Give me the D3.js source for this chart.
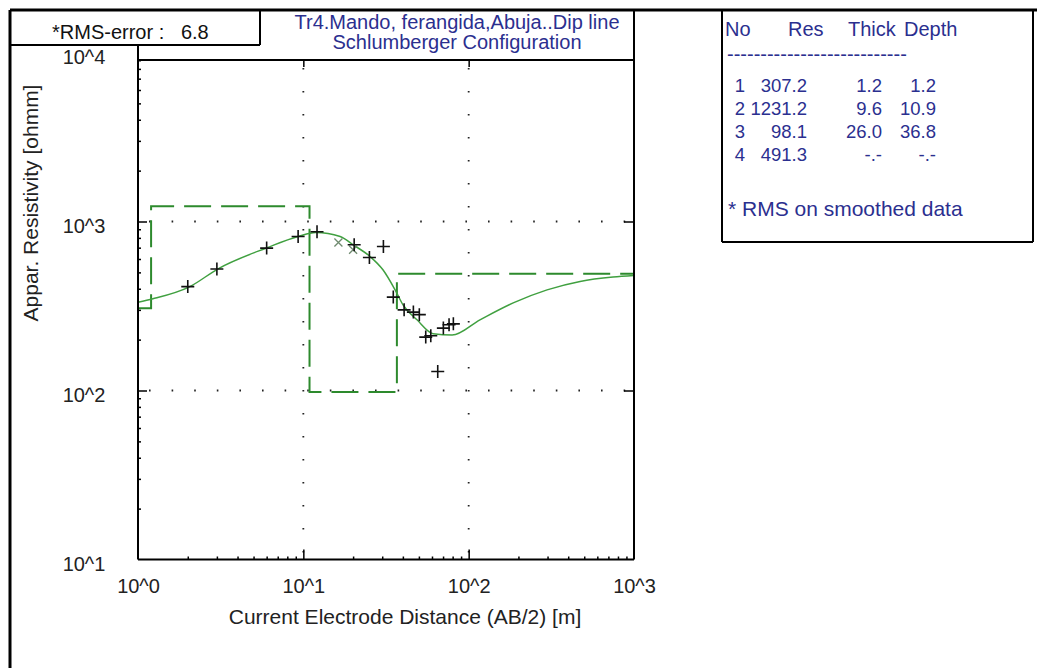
<!DOCTYPE html>
<html>
<head>
<meta charset="utf-8">
<script src="https://cdn.jsdelivr.net/npm/d3@7"></script>
<style>
  body { margin: 0; background: #fff; }
  text { font-family: "Liberation Sans", Arial, sans-serif; }
</style>
</head>
<body>
<svg id="chart" width="1037" height="668"></svg>
<script>
// layer model (inversion result)
const layerNo = [1, 2, 3, 4];
const layerRes = [307.2, 1231.2, 98.1, 491.3];
const layerThick = ["1.2", "9.6", "26.0", "-.-"];
const layerDepth = [1.2, 10.9, 36.8, null];

// field data (black crosses)
const dataAB = [2.0, 3.0, 6.0, 9.3, 12.1, 20.3, 25.1, 30.5, 35.0, 40.7, 46.3, 50.3, 55.0, 59.0, 65.0, 70.3, 76.1, 80.8];
const dataRho = [412, 523, 696, 815, 870, 728, 612, 711, 357, 300, 291, 281, 207, 211, 129.5, 234, 245, 248];

// smoothed data (small x)
const smoothAB = [16.3, 20.0];
const smoothRho = [751, 680];

// model response curve
const curveAB = [1, 1.23, 2.06, 3.05, 6.03, 9.29, 11.9, 16.7, 20.0, 25.3, 30.3, 35.9, 40.1, 48.7, 60.9, 79.4, 117, 186, 298, 472, 747, 1000];
const curveRho = [333, 349, 412, 525, 699, 815, 861, 815, 728, 621, 518, 394, 321, 262, 217, 213, 262, 330, 394, 442, 469, 479];

const xTickVals = [1, 10, 100, 1000];
const xTickLabels = ["10^0", "10^1", "10^2", "10^3"];
const yTickVals = [10, 100, 1000, 10000];
const yTickLabels = ["10^1", "10^2", "10^3", "10^4"];

const titleLines = ["Tr4.Mando, ferangida,Abuja..Dip line", "Schlumberger Configuration"];
const rmsText = "*RMS-error :   6.8";
const xTitle = "Current Electrode Distance (AB/2) [m]";
const yTitle = "Appar. Resistivity [ohmm]";
const tableHead = ["No", "Res", "Thick", "Depth"];

const svg = d3.select("#chart");
const blue = "#2b2f8f";

const pLeft = 138, pRight = 634, pTop = 60, pBottom = 559.5;
const x = d3.scaleLog().domain([1, 1000]).range([pLeft, pRight]);
const y = d3.scaleLog().domain([10, 10000]).range([pBottom, 52.5]);

function hline(x1, x2, yy, w) {
  svg.append("line").attr("x1", x1).attr("x2", x2).attr("y1", yy).attr("y2", yy)
    .attr("stroke", "#000").attr("stroke-width", w);
}
function vline(xx, y1, y2, w) {
  svg.append("line").attr("x1", xx).attr("x2", xx).attr("y1", y1).attr("y2", y2)
    .attr("stroke", "#000").attr("stroke-width", w);
}

// dotted grid
[10, 100].forEach(v => {
  svg.append("line").attr("x1", x(v)).attr("x2", x(v)).attr("y1", pTop).attr("y2", pBottom)
    .attr("stroke", "#222").attr("stroke-width", 1.8).attr("stroke-dasharray", "1.6,21.4")
    .attr("stroke-dashoffset", -8);
});
[100, 1000].forEach(v => {
  svg.append("line").attr("x1", pLeft).attr("x2", pRight).attr("y1", y(v)).attr("y2", y(v))
    .attr("stroke", "#222").attr("stroke-width", 1.8).attr("stroke-dasharray", "1.6,21")
    .attr("stroke-dashoffset", -11);
});

// minor / major ticks through axes
function minors(lo, hi) {
  const out = [];
  for (let p = lo; p < hi; p++) for (let k = 2; k <= 9; k++) out.push(k * Math.pow(10, p));
  return out;
}
function axisG(axis, tx, ty) {
  const g = svg.append("g").attr("transform", `translate(${tx},${ty})`).call(axis);
  g.select(".domain").remove();
  g.selectAll("line").attr("stroke", "#000").attr("stroke-width", 1.5);
  return g;
}
axisG(d3.axisBottom(x).tickValues(minors(0, 3)).tickSize(-3).tickFormat(""), 0, pBottom);
axisG(d3.axisBottom(x).tickValues([10, 100]).tickSize(-10).tickFormat(""), 0, pBottom);
axisG(d3.axisTop(x).tickValues([10, 100]).tickSize(-7).tickFormat(""), 0, pTop);
axisG(d3.axisLeft(y).tickValues(minors(1, 4).filter(v => y(v) > pTop)).tickSize(-3).tickFormat(""), pLeft, 0);
axisG(d3.axisLeft(y).tickValues([100, 1000]).tickSize(-9).tickFormat(""), pLeft, 0);
axisG(d3.axisRight(y).tickValues([100, 1000]).tickSize(-10).tickFormat(""), pRight, 0);

// tick labels
const xl = svg.append("g").attr("transform", `translate(0,${pBottom})`)
  .call(d3.axisBottom(x).tickValues(xTickVals).tickSize(0).tickFormat((d, i) => xTickLabels[i]));
xl.select(".domain").remove();
xl.selectAll("text").attr("y", 0).attr("dy", 33).attr("font-size", 20)
  .attr("font-family", "Liberation Sans, Arial, sans-serif").attr("fill", "#222");

const yl = svg.append("g").attr("transform", `translate(${pLeft},0)`)
  .call(d3.axisLeft(y).tickValues(yTickVals).tickSize(0).tickFormat((d, i) => yTickLabels[i]));
yl.select(".domain").remove();
yl.selectAll("text").attr("x", -54).attr("dy", 11).attr("text-anchor", "middle").attr("font-size", 20)
  .attr("font-family", "Liberation Sans, Arial, sans-serif").attr("fill", "#222");

// model (dashed step line)
const stepPts = [];
layerRes.forEach((r, i) => {
  const from = i === 0 ? 1 : layerDepth[i - 1];
  const to = layerDepth[i] == null ? 1000 : layerDepth[i];
  stepPts.push([from, r], [to, r]);
});
svg.append("path")
  .attr("d", d3.line().x(d => x(d[0])).y(d => y(d[1]))(stepPts))
  .attr("fill", "none").attr("stroke", "#2d8a2d").attr("stroke-width", 2)
  .attr("stroke-dasharray", "27,10");

// model response
svg.append("path")
  .attr("d", d3.line().x(d => x(d[0])).y(d => y(d[1])).curve(d3.curveMonotoneX)(curveAB.map((a, i) => [a, curveRho[i]])))
  .attr("fill", "none").attr("stroke", "#40a040").attr("stroke-width", 1.5);

// smoothed data
svg.append("g").selectAll("path").data(smoothAB).join("path")
  .attr("transform", (d, i) => `translate(${x(d)},${y(smoothRho[i])})`)
  .attr("d", "M-4,-4L4,4M-4,4L4,-4")
  .attr("stroke", "#6f8a6f").attr("stroke-width", 1.3);

// field data
svg.append("g").selectAll("path").data(dataAB).join("path")
  .attr("transform", (d, i) => `translate(${x(d)},${y(dataRho[i])})`)
  .attr("d", "M-6.5,0H6.5M0,-6.5V6.5")
  .attr("stroke", "#111").attr("stroke-width", 1.6);

// frames
hline(10, 1037, 10, 3);
vline(10, 10, 668, 3);
hline(10, 260, 45, 2);
vline(260, 10, 45, 2);
vline(pRight, 10, pBottom, 2);
hline(pLeft, pRight, pTop, 2);
vline(pLeft, 45, pBottom, 2);
hline(pLeft, pRight, pBottom, 2);
vline(722, 10, 242, 2);
hline(722, 1033, 242, 2);
vline(1033, 10, 242, 2);

// texts
svg.append("text").attr("x", 52).attr("y", 39).attr("font-size", 20).attr("fill", "#111")
  .style("white-space", "pre").text(rmsText);

svg.selectAll(".ttl").data(titleLines).join("text")
  .attr("x", 457).attr("y", (d, i) => 29 + i * 20).attr("text-anchor", "middle")
  .attr("font-size", 20).attr("fill", blue).text(d => d);

svg.append("text").attr("x", 405).attr("y", 624).attr("text-anchor", "middle")
  .attr("font-size", 21).attr("fill", "#222").text(xTitle);

svg.append("text").attr("transform", "translate(38,203) rotate(-90)").attr("text-anchor", "middle")
  .attr("font-size", 21).attr("fill", "#222").text(yTitle);

// layer table
const tbl = svg.append("g").attr("fill", blue).attr("font-size", 20);
const headX = [725, 788, 848, 904];
tbl.selectAll(".hd").data(tableHead).join("text")
  .attr("x", (d, i) => headX[i]).attr("y", 36).text(d => d);
tbl.append("text").attr("x", 727).attr("y", 61).text("-".repeat(27));
const rowY = d => 91.5 + d * 23;
const cells = tbl.append("g").attr("font-size", 18.5);
cells.selectAll(".no").data(layerNo).join("text").attr("x", 745).attr("y", (d, i) => rowY(i))
  .attr("text-anchor", "end").text(d => d);
cells.selectAll(".res").data(layerRes).join("text").attr("x", 807).attr("y", (d, i) => rowY(i))
  .attr("text-anchor", "end").text(d => d.toFixed(1));
cells.selectAll(".th").data(layerThick).join("text").attr("x", 882).attr("y", (d, i) => rowY(i))
  .attr("text-anchor", "end").text(d => d);
cells.selectAll(".dp").data(layerDepth).join("text").attr("x", 936).attr("y", (d, i) => rowY(i))
  .attr("text-anchor", "end").text(d => d == null ? "-.-" : d.toFixed(1));
tbl.append("text").attr("x", 728).attr("y", 216).attr("font-size", 21).text("* RMS on smoothed data");
</script>
</body>
</html>
